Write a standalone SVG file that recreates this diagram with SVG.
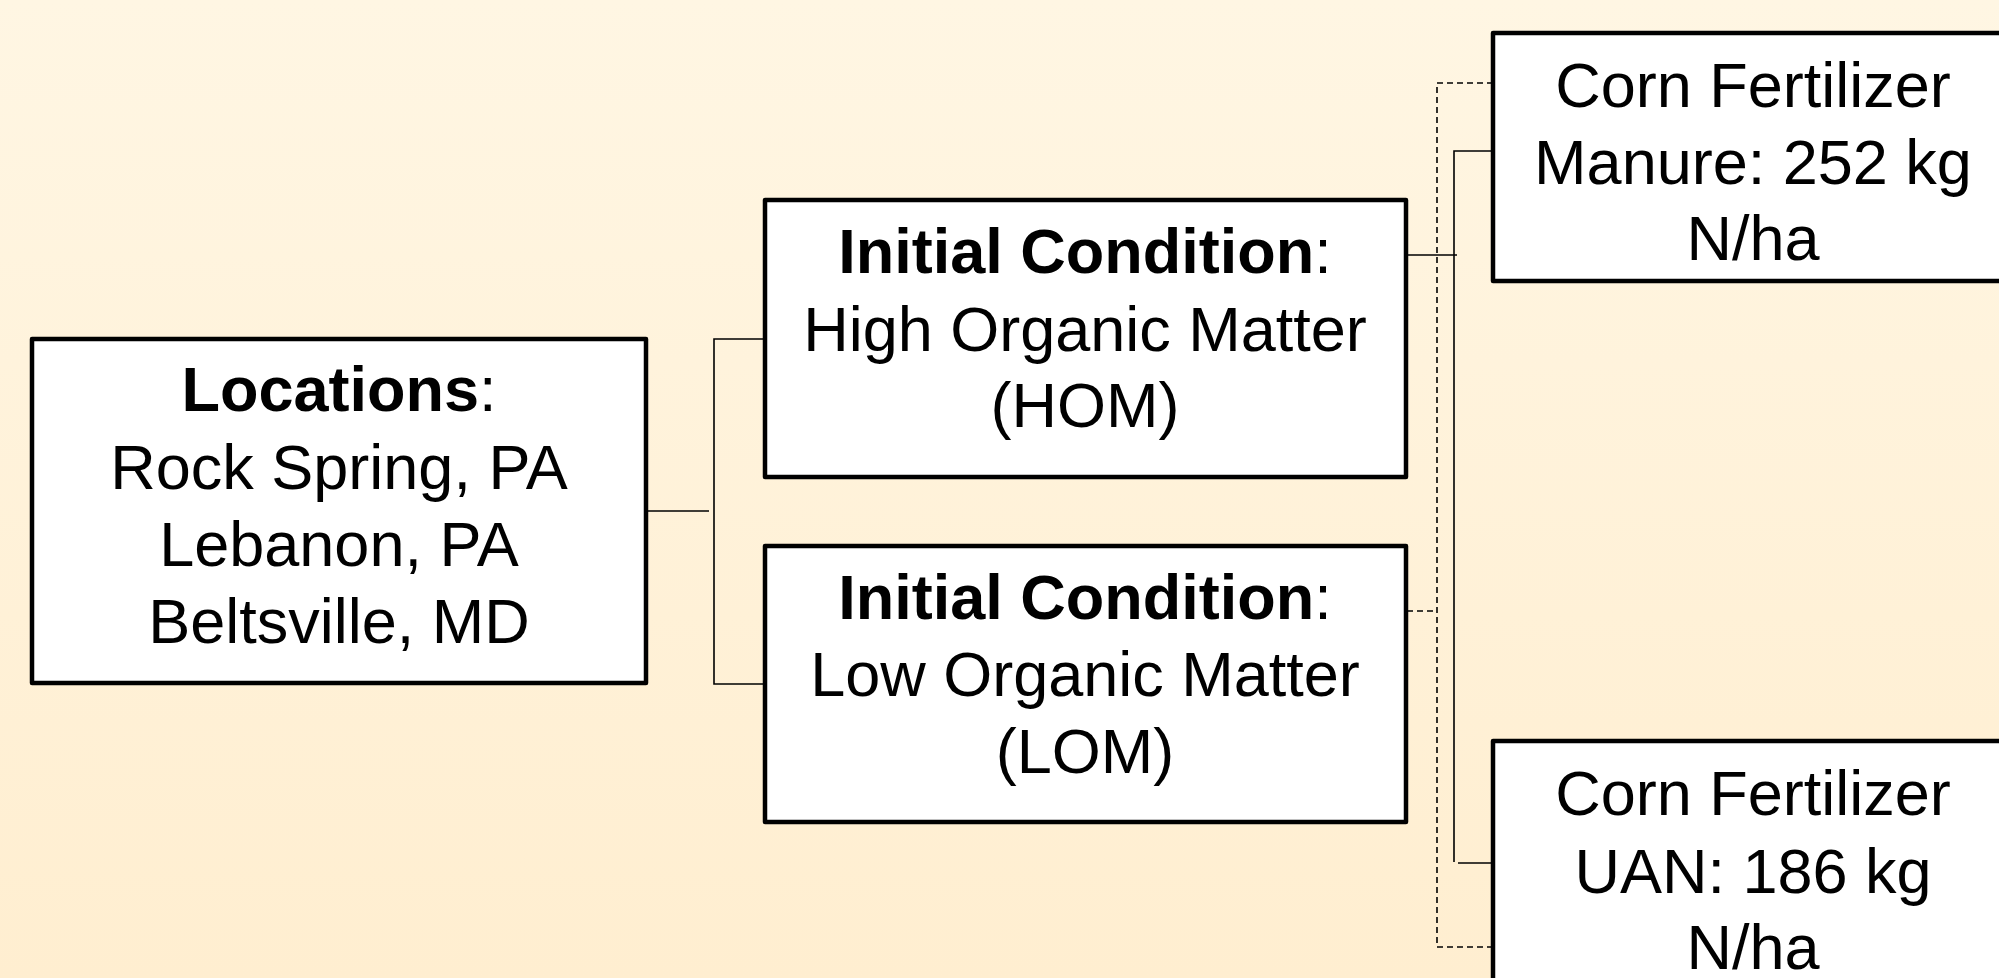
<svg xmlns="http://www.w3.org/2000/svg" width="1999" height="978" viewBox="0 0 1999 978">
  <defs>
    <linearGradient id="bg" x1="0" y1="0" x2="0" y2="1">
      <stop offset="0" stop-color="#FFF6E3"/>
      <stop offset="1" stop-color="#FFEED0"/>
    </linearGradient>
  </defs>
  <style>
    .box { fill: #FFFFFF; stroke: #000000; stroke-width: 4.5; stroke-linejoin: round; }
    .t { font-family: "Liberation Sans", Arial, sans-serif; font-size: 63px; fill: #000000; text-anchor: middle; }
    .b { font-weight: bold; }
    .solid { fill: none; stroke: #000000; stroke-width: 1.6; }
    .dash { fill: none; stroke: #000000; stroke-width: 1.6; stroke-dasharray: 6 4; }
  </style>
  <rect x="0" y="0" width="1999" height="978" fill="url(#bg)"/>

  <g id="connectors">
    <path class="solid" d="M646,511 H709"/>
    <path class="solid" d="M765,339 H714 V684 H765"/>
    <path class="solid" d="M1406,255 H1457"/>
    <path class="solid" d="M1493,151 H1454 V862"/>
    <path class="solid" d="M1458,863 H1493"/>
    <path class="dash" d="M1493,83 H1437 V947 H1493"/>
    <path class="dash" d="M1407,611 H1437"/>
  </g>

  <g id="locations">
    <rect class="box" x="32" y="339" width="614" height="344"/>
    <text class="t" x="339" y="411"><tspan class="b">Locations</tspan>:</text>
    <text class="t" x="339" y="489">Rock Spring, PA</text>
    <text class="t" x="339" y="566">Lebanon, PA</text>
    <text class="t" x="339" y="643">Beltsville, MD</text>
  </g>

  <g id="hom">
    <rect class="box" x="765" y="200" width="641" height="277"/>
    <text class="t" x="1085" y="273"><tspan class="b">Initial Condition</tspan>:</text>
    <text class="t" x="1085" y="351">High Organic Matter</text>
    <text class="t" x="1085" y="427">(HOM)</text>
  </g>

  <g id="lom">
    <rect class="box" x="765" y="546" width="641" height="276"/>
    <text class="t" x="1085" y="619"><tspan class="b">Initial Condition</tspan>:</text>
    <text class="t" x="1085" y="696">Low Organic Matter</text>
    <text class="t" x="1085" y="773">(LOM)</text>
  </g>

  <g id="manure">
    <rect class="box" x="1493" y="33" width="540" height="248"/>
    <text class="t" x="1753" y="107">Corn Fertilizer</text>
    <text class="t" x="1753" y="184">Manure: 252 kg</text>
    <text class="t" x="1753" y="260">N/ha</text>
  </g>

  <g id="uan">
    <rect class="box" x="1493" y="741" width="540" height="280"/>
    <text class="t" x="1753" y="815">Corn Fertilizer</text>
    <text class="t" x="1753" y="893">UAN: 186 kg</text>
    <text class="t" x="1753" y="969">N/ha</text>
  </g>
</svg>
